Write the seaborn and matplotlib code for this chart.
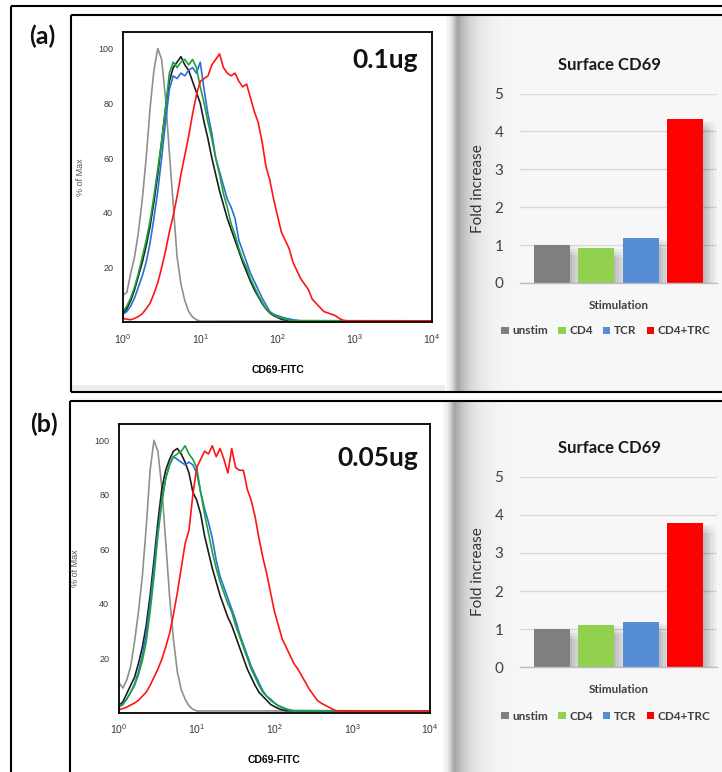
import numpy as np
import pandas as pd
import matplotlib
matplotlib.use("Agg")
import matplotlib.pyplot as plt
import matplotlib.patheffects as pe
from matplotlib import font_manager
from matplotlib.ticker import FixedLocator, LogLocator, MultipleLocator, NullFormatter
import seaborn as sns

# ---------------- histogram data: % of max, one value per 0.05-decade channel from 10^0 ----------------
CHANNEL_STEP = 0.05
BASELINE = 0.6

hist_samples = ["isotype", "unstim", "TCR", "CD4", "CD4+TRC"]
hist_colors = ["#8f8f8f", "#1c1c1c", "#2a6fd8", "#1ea33a", "#ff1414"]

# 0.1 ug
a_isotype = [10, 11, 18, 24, 33, 45, 60, 78, 92, 100, 96, 82, 62, 43, 24, 14, 8, 4, 2, 1, 0.5]
a_unstim = [3, 5, 8, 12, 17, 22, 28, 35, 44, 54, 66, 78, 88, 93, 95, 97, 94, 92, 88, 84,
            80, 73, 67, 60, 54, 48, 43, 38, 34, 30, 26, 22, 18.5, 15, 12, 9.5, 7, 5, 3.5, 2.5,
            1.8, 1.2, 0.9, 0.7, 0.6]
a_cd4 = [4, 6, 9, 13, 18, 24, 30, 37, 46, 56, 66, 78, 91, 95, 93, 95, 96, 94, 96, 93,
         86, 80, 73, 67, 60, 54, 47, 42, 36, 32, 27, 23, 20, 16, 13, 10, 7.5, 5, 3.8, 2.8,
         2, 1.6, 1.2, 0.9, 0.7]
a_tcr = [3, 4, 6, 9, 13, 17, 22, 29, 38, 48, 60, 73, 85, 90, 89, 91, 90, 92, 93, 91,
         95, 85, 76, 69, 60, 55, 50, 45, 42, 38, 30, 26, 22, 18, 15, 12, 9, 6.5, 4, 3,
         2.5, 2, 1.6, 1.3, 1, 0.8, 0.6]
a_combo = [1.5, 1.2, 1, 1.5, 2.2, 3.2, 5, 7, 10.5, 14.5, 20, 26, 33, 39, 46, 54, 61, 68, 76, 83,
           88, 89, 90, 94, 96, 98, 93, 91, 90, 91, 88, 86, 87, 82, 77, 73, 66, 57, 52, 45,
           39, 33, 30, 27, 22, 19, 16, 14, 12, 8.5, 7, 5.5, 4, 3.5, 3, 2.5, 1.5, 0.8, 0.6]

# 0.05 ug
b_isotype = [11, 9, 12, 17, 26, 37, 50, 68, 89, 100, 96, 83, 63, 43, 27, 15, 8.5, 5, 2.5, 1.2, 0.6]
b_unstim = [2.5, 4, 7, 10, 13, 18, 24, 32, 43, 56, 70, 82, 89, 93, 96, 97, 95, 92, 88, 81,
            78, 73, 65, 59, 53, 48, 43, 39, 35, 32, 28, 24, 20, 16, 13, 10, 7.5, 6, 4.5, 3,
            2.2, 1.5, 1, 0.7]
b_cd4 = [2.5, 3, 5, 7.5, 10, 14, 19, 26, 37, 50, 65, 77, 86, 91, 94, 95, 96, 98, 95, 93,
         90, 81, 73, 66, 59, 53, 48, 44, 40, 37, 32, 28, 24, 20, 16, 13, 10, 7.5, 6, 5,
         3.5, 2.5, 2, 1.4, 1, 0.7]
b_tcr = [2, 3, 5, 7.5, 10.5, 15, 21, 29, 40, 53, 67, 78, 86, 91, 94, 93, 92, 91, 92, 91,
         88, 81, 75, 70, 64, 56, 50, 46, 42, 38, 34, 29, 25, 21, 17, 14, 11, 8, 6, 4.5,
         3.5, 2.5, 1.8, 1.2, 0.8, 0.6]
b_combo = [1, 1.5, 2, 2.8, 3.5, 4.5, 6, 7.5, 10, 13, 16, 19.5, 24, 29, 36, 44, 53, 62, 67, 80,
           90, 93, 96, 95, 98, 94, 97, 93, 88, 97, 90, 89, 89, 82, 78, 72, 64, 57, 51, 44,
           37, 32, 27, 24, 21, 18, 16, 13.5, 11, 8.5, 6.5, 4.5, 3.5, 2.7, 2, 1.2, 0.6]

# ---------------- bar chart data ----------------
stimulations = ["unstim", "CD4", "TCR", "CD4+TRC"]
bar_colors = ["#7f7f7f", "#92d050", "#558ed5", "#ff0000"]
fold_a = [1.00, 0.93, 1.18, 4.32]
fold_b = [1.00, 1.12, 1.18, 3.78]

doses = ["0.1ug", "0.05ug"]
panel_tags = ["(a)", "(b)"]
decade_ticks = [1, 10, 100, 1000, 10000]
decade_labels = [r"$10^{0}$", r"$10^{1}$", r"$10^{2}$", r"$10^{3}$", r"$10^{4}$"]
pct_ticks = [20, 40, 60, 80, 100]
fold_ticks = [0, 1, 2, 3, 4, 5]

# ---------------- style ----------------
sns.set_style("white")
plt.rcParams["font.family"] = ["Lato", "DejaVu Sans"]
plt.rcParams["mathtext.fontset"] = "custom"
plt.rcParams["mathtext.rm"] = "Liberation Sans"
plt.rcParams["mathtext.it"] = "Liberation Sans"

installed = {f.name for f in font_manager.fontManager.ttflist}
NARROW = "Liberation Sans Narrow" if "Liberation Sans Narrow" in installed else "Liberation Sans"

W, H = 722, 772
fig = plt.figure(figsize=(W / 100, H / 100), dpi=100)


def frac(left, top, right, bottom):
    return [left / W, 1 - bottom / H, (right - left) / W, (bottom - top) / H]


# ---------------- background: frames, white cards and their shadows ----------------
bg = fig.add_axes([0, 0, 1, 1], zorder=-10)
bg.set_xlim(0, W)
bg.set_ylim(H, 0)
bg.axis("off")

img = np.ones((H, W))
cols = np.arange(W, dtype=float)


def shade_panel(top, bottom, left, card_right, card_bottom):
    rel = cols - card_right
    dark = np.where(rel < 13, 0.32 * np.exp(-((rel - 13) / 6.0) ** 2),
                    0.32 * np.exp(-(rel - 13) / 14.0))
    row = 0.972 - dark
    row[cols <= card_right] = 1.0
    row[cols < left] = 1.0
    img[top:bottom, :] = row
    if card_bottom < bottom:
        img[card_bottom:bottom, left:int(card_right)] = 0.93


shade_panel(16, 391, 72, 445, 385)
shade_panel(402, H, 71, 442, H)
bg.imshow(np.dstack([img] * 3), extent=(0, W, H, 0), aspect="auto", interpolation="bilinear")

frame_kw = dict(color="black", lw=1.5, solid_capstyle="butt")
bg.plot([11, 11], [6, H], **frame_kw)
bg.plot([11, W], [6, 6], **frame_kw)
bg.plot([71, 71], [15, 392], **frame_kw)
bg.plot([71, W], [15, 15], **frame_kw)
bg.plot([71, W], [392, 392], **frame_kw)
bg.plot([70, 70], [401, H], **frame_kw)
bg.plot([70, W], [401, 401], **frame_kw)


def label(x, y, s, **kw):
    """Figure-level text placed in pixel coordinates (y downward)."""
    fig.text(x, y, s, transform=bg.transData, zorder=20, **kw)


# ---------------- panels ----------------
panels = [
    dict(curves=[a_isotype, a_unstim, a_tcr, a_cd4, a_combo], folds=fold_a,
         hist_box=(123, 32, 432, 322.5), bar_box=(520, 93.5, 717, 283),
         tag_xy=(42, 36), dose_xy=(418, 60), title_y=65, legend_y=331),
    dict(curves=[b_isotype, b_unstim, b_tcr, b_cd4, b_combo], folds=fold_b,
         hist_box=(119, 424, 430, 712.6), bar_box=(520, 476.7, 717, 667.3),
         tag_xy=(44, 424), dose_xy=(418, 458), title_y=448, legend_y=716),
]

shadow_fx = [pe.SimplePatchShadow(offset=(dx, -dy), shadow_rgbFace="black", alpha=0.011)
             for dx in (1.5, 3.5, 5.5, 7.5, 9.5) for dy in (1.0, 3.0, 5.0, 7.0)] + [pe.Normal()]

for i, p in enumerate(panels):
    # ---- histogram overlay ----
    frames = []
    for name, vals in zip(hist_samples, p["curves"]):
        logs = np.arange(len(vals)) * CHANNEL_STEP
        frames.append(pd.DataFrame({
            "CD69-FITC": np.append(10 ** logs, 1e4),
            "pct": np.append(vals, BASELINE),
            "sample": name,
        }))
    hdf = pd.concat(frames, ignore_index=True)

    ax = fig.add_axes(frac(*p["hist_box"]))
    sns.lineplot(data=hdf, x="CD69-FITC", y="pct", hue="sample", hue_order=hist_samples,
                 palette=dict(zip(hist_samples, hist_colors)), estimator=None, sort=False,
                 legend=False, linewidth=1.2, ax=ax)
    ax.set_xscale("log")
    ax.set_xlim(1, 1e4)
    ax.set_ylim(0, 106)
    ax.xaxis.set_major_locator(FixedLocator(decade_ticks))
    ax.set_xticklabels(decade_labels)
    ax.xaxis.set_minor_locator(LogLocator(base=10, subs=np.arange(2, 10)))
    ax.xaxis.set_minor_formatter(NullFormatter())
    ax.yaxis.set_major_locator(FixedLocator(pct_ticks))
    ax.yaxis.set_minor_locator(MultipleLocator(5))
    ax.tick_params(which="major", direction="out", length=4, width=0.9, color="black",
                   labelsize=7.5, labelcolor="#3a3a3a", pad=3)
    ax.tick_params(which="minor", direction="out", length=2.2, width=0.8, color="black")
    for lab in ax.get_yticklabels():
        lab.set_family("Liberation Sans")
        lab.set_fontsize(6.5)
    for sp in ax.spines.values():
        sp.set_visible(True)
        sp.set_color("black")
        sp.set_linewidth(1.3)
    ax.set_ylabel("% of Max", fontsize=6.5, color="#555555", family="Liberation Sans")
    ax.yaxis.set_label_coords(-0.139, 0.5)
    ax.yaxis.label.set_va("center")
    ax.set_xlabel("CD69-FITC", fontsize=7.5, weight="bold", color="black", family=NARROW)
    ax.xaxis.set_label_coords(0.5, -0.165)
    ax.xaxis.label.set_va("center")

    label(*p["dose_xy"], doses[i], fontsize=19, weight="bold", color="#111111",
          ha="right", va="center")
    label(*p["tag_xy"], panel_tags[i], fontsize=18, weight="bold", color="#111111",
          ha="center", va="center")

    # ---- fold-increase bar chart ----
    bdf = pd.DataFrame({"group": "Stimulation", "stim": stimulations, "fold": p["folds"]})
    bx = fig.add_axes(frac(*p["bar_box"]))
    bx.set_facecolor("none")
    sns.barplot(data=bdf, x="group", y="fold", hue="stim", hue_order=stimulations,
                palette=dict(zip(stimulations, bar_colors)), saturation=1, width=0.8,
                gap=0.19, linewidth=0, errorbar=None, ax=bx)
    for bar in bx.patches:
        bar.set_path_effects(shadow_fx)
    bx.set_xlim(-0.445, 0.445)
    bx.set_ylim(0, 5)
    bx.set_yticks(fold_ticks)
    bx.yaxis.grid(True, color="#d9d9d9", lw=1.0)
    bx.set_axisbelow(True)
    for side in ["top", "right", "left"]:
        bx.spines[side].set_visible(False)
    bx.spines["bottom"].set_color("#bdbdbd")
    bx.spines["bottom"].set_linewidth(1.0)
    bx.tick_params(axis="y", length=0, pad=12, labelsize=11, labelcolor="#404040")
    bx.tick_params(axis="x", length=0, pad=12, labelsize=8.5, labelcolor="#404040")
    for lab in bx.get_xticklabels():
        lab.set_weight("bold")
    bx.set_xlabel("")
    bx.set_ylabel("Fold increase", fontsize=11, color="#333333")
    bx.yaxis.set_label_coords(-0.213, 0.5)
    bx.yaxis.label.set_va("center")
    label(610, p["title_y"], "Surface CD69", fontsize=12, weight="bold", color="#1a1a1a",
          ha="center", va="center")
    sns.move_legend(bx, "center", bbox_to_anchor=(606 / W, 1 - p["legend_y"] / H),
                    bbox_transform=fig.transFigure, ncol=4, frameon=False, title=None,
                    handlelength=0.6, handleheight=0.6, handletextpad=0.3, columnspacing=0.9,
                    prop={"weight": "bold", "size": 8.5})
    for t in bx.get_legend().get_texts():
        t.set_color("#404040")

fig.savefig("out.png", dpi=100)
